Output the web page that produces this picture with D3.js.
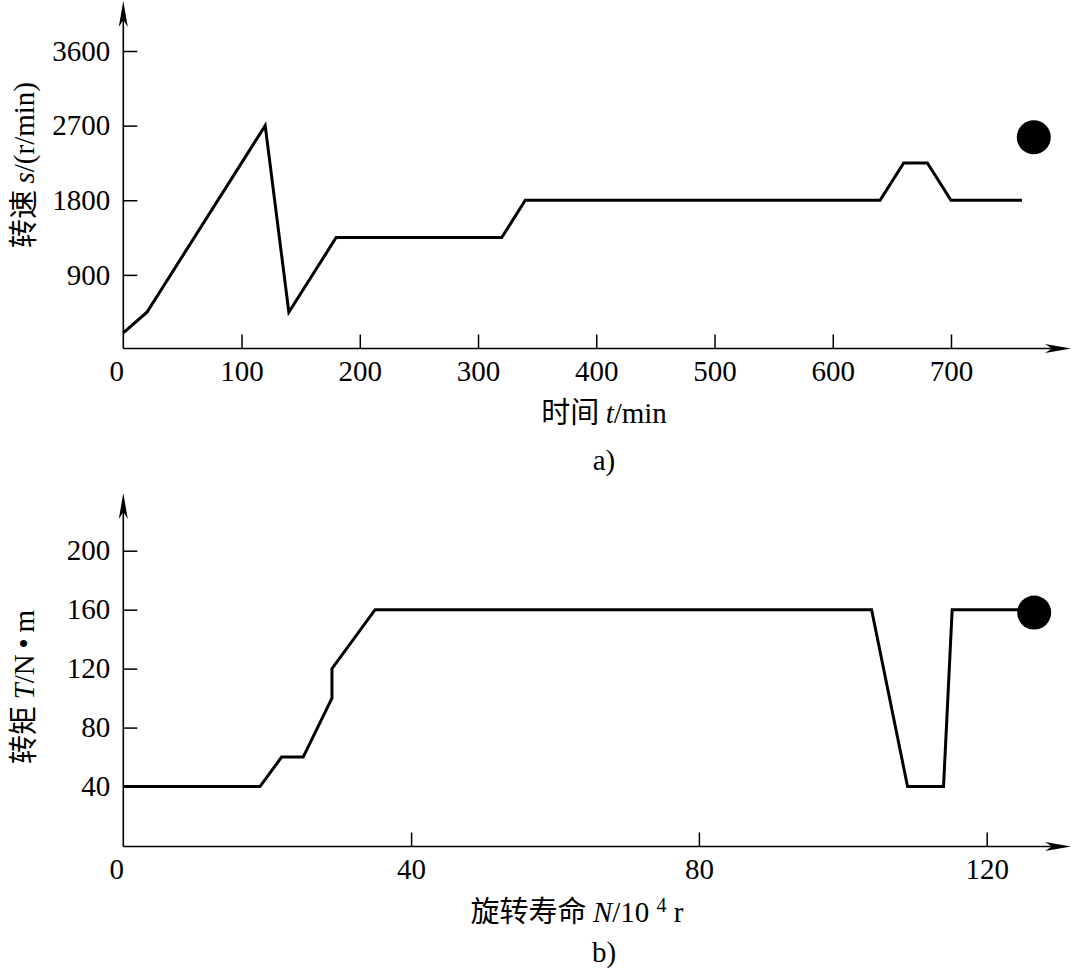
<!DOCTYPE html>
<html>
<head>
<meta charset="utf-8">
<script src="https://cdn.jsdelivr.net/npm/d3@7"></script>
<style>
  html, body { margin: 0; padding: 0; background: #fff; }
  svg { display: block; }
  .serif { font-family: "Liberation Serif", "Times New Roman", serif; }
  .cjk { font-family: "Noto Sans CJK SC", sans-serif; }
</style>
</head>
<body>
<svg id="chart" width="1074" height="970"></svg>
<script>
// ---- Data: chart a) speed vs time ----
const speedTime  = [0, 20, 120, 140, 180, 320, 340, 640, 660, 680, 700, 760];
const speedValue = [200, 450, 2700, 450, 1350, 1350, 1800, 1800, 2250, 2250, 1800, 1800];
const speedMarker = { t: 770, s: 2560 };
const speedXTicks = [0, 100, 200, 300, 400, 500, 600, 700];
const speedYTicks = [900, 1800, 2700, 3600];

// ---- Data: chart b) torque vs rotation life ----
const torqueLife  = [0, 19, 22, 25, 29, 29, 35, 104, 109, 114, 115.2, 126.6];
const torqueValue = [40, 40, 60, 60, 100, 120, 160, 160, 40, 40, 160, 160];
const torqueMarker = { n: 126.6, T: 158 };
const torqueXTicks = [0, 40, 80, 120];
const torqueYTicks = [40, 80, 120, 160, 200];

const svg = d3.select("#chart");
const FS = 29;

function arrowPath(x, y, dir) {
  const L = 26, W = 4.5, N = 19;
  if (dir === "up") {
    return `M${x},${y} L${x - W},${y + L} L${x},${y + N} L${x + W},${y + L} Z`;
  }
  return `M${x},${y} L${x - L},${y - W} L${x - N},${y} L${x - L},${y + W} Z`;
}

function drawPanel(cfg) {
  const g = svg.append("g");
  const x = d3.scaleLinear().domain(cfg.xDomain).range(cfg.xRange);
  const y = d3.scaleLinear().domain(cfg.yDomain).range(cfg.yRange);
  const x0 = x(0), y0 = cfg.axisY;

  g.append("line").attr("x1", x0).attr("x2", x0).attr("y1", y0).attr("y2", cfg.yTip + 10)
    .attr("stroke", "#000").attr("stroke-width", 1.6);
  g.append("path").attr("d", arrowPath(x0, cfg.yTip, "up")).attr("fill", "#000");
  g.append("line").attr("x1", x0).attr("x2", cfg.xTip - 10).attr("y1", y0).attr("y2", y0)
    .attr("stroke", "#000").attr("stroke-width", 1.6);
  g.append("path").attr("d", arrowPath(cfg.xTip, y0, "right")).attr("fill", "#000");

  const xAxis = d3.axisBottom(x).tickValues(cfg.xTicks).tickSizeInner(-14).tickSizeOuter(0)
    .tickPadding(12).tickFormat(d3.format("d"));
  const gx = g.append("g").attr("transform", `translate(0,${y0})`).call(xAxis);
  gx.select(".domain").remove();
  gx.selectAll(".tick line").attr("stroke", "#000").attr("stroke-width", 1.5)
    .filter(d => d === 0).remove();
  gx.selectAll(".tick text").attr("class", "serif").attr("font-size", FS).attr("fill", "#000")
    .attr("dx", d => d === 0 ? -7 : 0);

  const yAxis = d3.axisLeft(y).tickValues(cfg.yTicks).tickSizeInner(-14).tickSizeOuter(0)
    .tickPadding(13).tickFormat(d3.format("d"));
  const gy = g.append("g").attr("transform", `translate(${x0},0)`).call(yAxis);
  gy.select(".domain").remove();
  gy.selectAll(".tick line").attr("stroke", "#000").attr("stroke-width", 1.5);
  gy.selectAll(".tick text").attr("class", "serif").attr("font-size", FS).attr("fill", "#000");

  const line = d3.line().x(d => x(d[0])).y(d => y(d[1]));
  g.append("path").datum(d3.zip(cfg.xs, cfg.ys)).attr("d", line)
    .attr("fill", "none").attr("stroke", "#000").attr("stroke-width", 3)
    .attr("stroke-linejoin", "miter");

  g.append("circle").attr("cx", x(cfg.marker[0])).attr("cy", y(cfg.marker[1])).attr("r", 17)
    .attr("fill", "#000");

  return g;
}

// ---- Panel a ----
drawPanel({
  xDomain: [0, 700], xRange: [123.3, 951],
  yDomain: [0, 3600], yRange: [349.5, 51],
  axisY: 348.5, yTip: 1, xTip: 1071,
  xTicks: speedXTicks, yTicks: speedYTicks,
  xs: speedTime, ys: speedValue,
  marker: [speedMarker.t, speedMarker.s]
});

const yta = svg.append("text").attr("transform", "translate(34,165) rotate(-90)")
  .attr("text-anchor", "middle").attr("font-size", FS).attr("fill", "#000");
yta.append("tspan").attr("class", "cjk").text("转速 ");
yta.append("tspan").attr("class", "serif").attr("font-style", "italic").text("s");
yta.append("tspan").attr("class", "serif").text("/(r/min)");

const xta = svg.append("text").attr("x", 604).attr("y", 423)
  .attr("text-anchor", "middle").attr("font-size", FS).attr("fill", "#000");
xta.append("tspan").attr("class", "cjk").text("时间 ");
xta.append("tspan").attr("class", "serif").attr("font-style", "italic").text("t");
xta.append("tspan").attr("class", "serif").text("/min");

svg.append("text").attr("class", "serif").attr("x", 604).attr("y", 470)
  .attr("text-anchor", "middle").attr("font-size", FS).attr("fill", "#000").text("a)");

// ---- Panel b ----
drawPanel({
  xDomain: [0, 120], xRange: [123.3, 986.7],
  yDomain: [0, 200], yRange: [845.5, 550.7],
  axisY: 846.5, yTip: 493, xTip: 1071,
  xTicks: torqueXTicks, yTicks: torqueYTicks,
  xs: torqueLife, ys: torqueValue,
  marker: [torqueMarker.n, torqueMarker.T]
});

const ytb = svg.append("text").attr("transform", "translate(34,687) rotate(-90)")
  .attr("text-anchor", "middle").attr("font-size", FS).attr("fill", "#000");
ytb.append("tspan").attr("class", "cjk").text("转矩 ");
ytb.append("tspan").attr("class", "serif").attr("font-style", "italic").text("T");
ytb.append("tspan").attr("class", "serif").text("/N\u2009\u2022\u2009m");

const xtb = svg.append("text").attr("x", 577).attr("y", 922)
  .attr("text-anchor", "middle").attr("font-size", FS).attr("fill", "#000");
xtb.append("tspan").attr("class", "cjk").text("旋转寿命 ");
xtb.append("tspan").attr("class", "serif").attr("font-style", "italic").text("N");
xtb.append("tspan").attr("class", "serif").text("/10 ");
xtb.append("tspan").attr("class", "serif").attr("font-size", 20).attr("dy", -10).text("4");
xtb.append("tspan").attr("class", "serif").attr("dy", 10).text(" r");

svg.append("text").attr("class", "serif").attr("x", 604).attr("y", 962)
  .attr("text-anchor", "middle").attr("font-size", FS).attr("fill", "#000").text("b)");
</script>
</body>
</html>
